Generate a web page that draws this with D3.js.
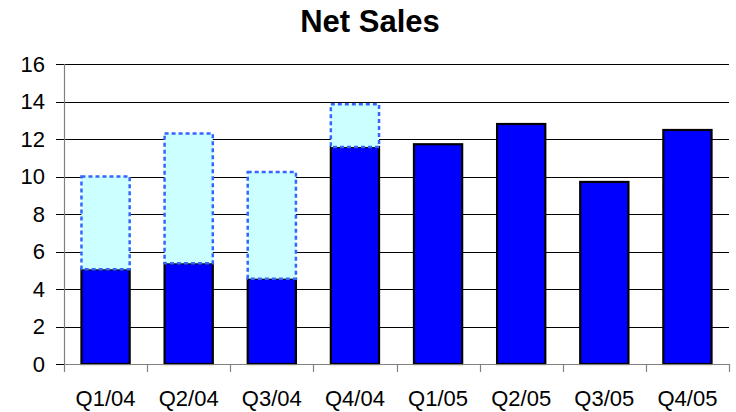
<!DOCTYPE html>
<html>
<head>
<meta charset="utf-8">
<script src="https://cdn.jsdelivr.net/npm/d3@7"></script>
<style>
  html, body { margin: 0; padding: 0; background: #fff; }
  svg { display: block; }
  text { font-family: Arial, "Liberation Sans", sans-serif; }
</style>
</head>
<body>
<svg id="chart" width="736" height="412"></svg>
<script>
const categories = ["Q1/04", "Q2/04", "Q3/04", "Q4/04", "Q1/05", "Q2/05", "Q3/05", "Q4/05"];
const baseValues = [5.05, 5.37, 4.55, 11.57, 11.72, 12.8, 9.71, 12.48];
const upperTotals = [10.0, 12.3, 10.24, 13.85, null, null, null, null];
const yTicks = [0, 2, 4, 6, 8, 10, 12, 14, 16];
const title = "Net Sales";

const svg = d3.select("#chart");
const margin = { left: 64, right: 7, top: 64, bottom: 48 };
const W = 736, H = 412;
const x0 = margin.left, x1 = W - margin.right;
const y0 = H - margin.bottom, y1 = margin.top;

const x = d3.scaleBand().domain(categories).range([x0, x1]).paddingInner(0.42).paddingOuter(0.21);
const y = d3.scaleLinear().domain([0, 16]).range([y0, y1]);

// title
svg.append("text").attr("x", 370).attr("y", 32).attr("text-anchor", "middle")
  .attr("font-size", 31).attr("font-weight", "bold").attr("fill", "#000").text(title);

// gridlines + y ticks
svg.append("g").selectAll("line").data(yTicks.filter(d => d > 0)).join("line")
  .attr("x1", x0 - 8).attr("x2", x1)
  .attr("y1", d => Math.round(y(d)) + 0.5).attr("y2", d => Math.round(y(d)) + 0.5)
  .attr("stroke", "#000").attr("stroke-width", 1);
svg.append("line").attr("x1", x0 - 8).attr("x2", x0).attr("y1", Math.round(y(0)) + 0.5).attr("y2", Math.round(y(0)) + 0.5)
  .attr("stroke", "#000");

// y labels
svg.append("g").selectAll("text").data(yTicks).join("text")
  .attr("x", x0 - 19).attr("y", d => y(d)).attr("dy", "0.36em")
  .attr("text-anchor", "end").attr("font-size", 22).attr("fill", "#000").text(d => d);

// base bars
svg.append("g").selectAll("rect").data(categories).join("rect")
  .attr("x", d => x(d)).attr("width", x.bandwidth())
  .attr("y", (d, i) => y(baseValues[i])).attr("height", (d, i) => y(0) - y(baseValues[i]))
  .attr("fill", "#0000FF").attr("stroke", "#000").attr("stroke-width", 2.2);

// upper (forecast) segments
const upper = categories.map((c, i) => ({ c, lo: baseValues[i], hi: upperTotals[i] })).filter(d => d.hi != null);
svg.append("g").selectAll("rect").data(upper).join("rect")
  .attr("x", d => x(d.c)).attr("width", x.bandwidth())
  .attr("y", d => y(d.hi)).attr("height", d => y(d.lo) - y(d.hi))
  .attr("fill", "#CCFFFF").attr("stroke", "#3366FF").attr("stroke-width", 2.5)
  .attr("stroke-dasharray", "4,3");

// axes lines
svg.append("line").attr("x1", x0 + 0.5).attr("x2", x0 + 0.5).attr("y1", y1).attr("y2", y0)
  .attr("stroke", "#808080").attr("stroke-width", 1.2);
svg.append("line").attr("x1", x0).attr("x2", x1).attr("y1", Math.round(y0) + 0.5).attr("y2", Math.round(y0) + 0.5)
  .attr("stroke", "#808080").attr("stroke-width", 1.2);

// x ticks at band boundaries
const bounds = categories.map(c => x(c) - x.step() * x.paddingInner() / 2).concat([x1]);
svg.append("g").selectAll("line").data(bounds).join("line")
  .attr("x1", d => Math.round(d) + 0.5).attr("x2", d => Math.round(d) + 0.5)
  .attr("y1", y0).attr("y2", y0 + 8).attr("stroke", "#808080").attr("stroke-width", 1.2);

// x labels
svg.append("g").selectAll("text").data(categories).join("text")
  .attr("x", d => x(d) + x.bandwidth() / 2).attr("y", 406)
  .attr("text-anchor", "middle").attr("font-size", 22).attr("fill", "#000").text(d => d);
</script>
</body>
</html>
